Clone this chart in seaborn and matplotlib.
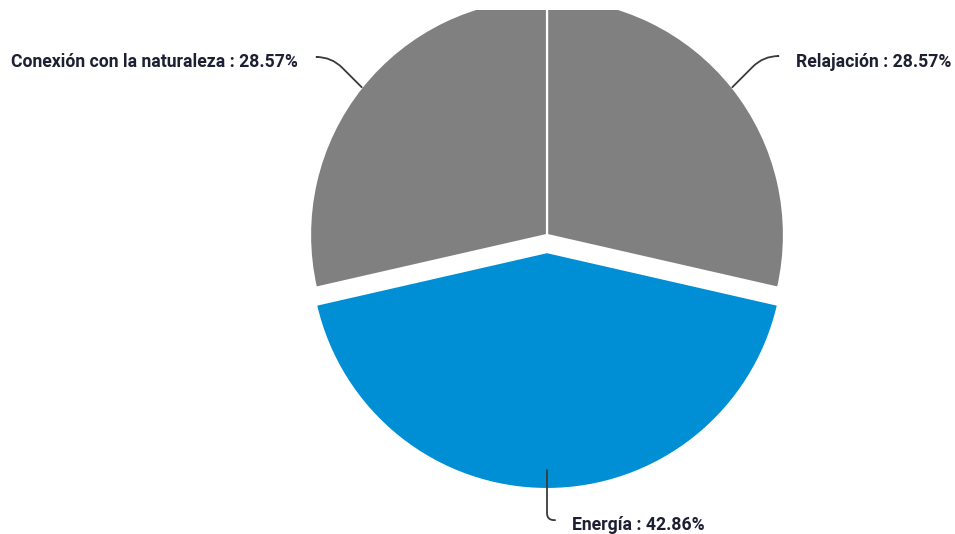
import matplotlib
matplotlib.use("Agg")
import matplotlib.pyplot as plt
import numpy as np
import seaborn as sns

# Survey answers (counts) and their categories, in drawing order (clockwise from 12 o'clock)
categories = ["Relajación", "Energía", "Conexión con la naturaleza"]
counts = [2, 3, 2]
colors = ["#808080", "#008fd5", "#808080"]
explode = [0.0, 0.072, 0.0]

sns.set_theme(style="white")
plt.rcParams["font.family"] = ["Roboto", "DejaVu Sans"]

W, H, DPI = 955, 534, 100
R_PX = 237.0                 # pie radius in pixels
CX, CY = 547.0, 235.0        # pie centre in pixels (from top-left)
TOP_CLIP = 10                # the plot area starts a few pixels below the top edge

fig = plt.figure(figsize=(W / DPI, H / DPI), dpi=DPI)
fig.patch.set_facecolor("white")
ax = fig.add_axes([0, 0, 1, (H - TOP_CLIP) / H])

wedges, _ = ax.pie(
    counts,
    colors=colors,
    explode=explode,
    startangle=90,
    counterclock=False,
    radius=1.0,
    wedgeprops=dict(edgecolor="white", linewidth=1.6),
)
for w in wedges:
    w.set_clip_on(True)
    w.set_clip_path(ax.patch)

ax.set_aspect("auto")
ax.set_xlim(-CX / R_PX, (W - CX) / R_PX)
ax.set_ylim(-(H - CY) / R_PX, (CY - TOP_CLIP) / R_PX)
ax.axis("off")

total = sum(counts)
pcts = [c / total * 100 for c in counts]

# label layout: (text x, text baseline y, ha, line start x, line start y,
#                leader radius, connection style)
layout = [
    (1.051, 0.709, "left", 0.975, 0.755, 1.0, "angle,angleA=0,angleB=45,rad=15"),
    (0.105, -1.245, "left", 0.034, -1.203, 0.92, "angle,angleA=0,angleB=90,rad=7"),
    (-1.051, 0.709, "right", -0.966, 0.751, 1.0, "angle,angleA=0,angleB=135,rad=15"),
]

for w, name, pct, (tx, ty, ha, lx, ly, lr, cs) in zip(wedges, categories, pcts, layout):
    mid = np.deg2rad((w.theta1 + w.theta2) / 2)
    cx, cy = w.center
    px, py = cx + lr * np.cos(mid), cy + lr * np.sin(mid)
    ax.annotate(
        "",
        xy=(px, py),
        xytext=(lx, ly),
        arrowprops=dict(arrowstyle="-", color="#3a3a3a", lw=1.3,
                        connectionstyle=cs, shrinkA=0, shrinkB=0),
        annotation_clip=False,
    )
    ax.text(tx, ty, f"{name} : {pct:.2f}%", ha=ha, va="baseline",
            fontsize=12.7, fontweight="bold", color="#1d1f33",
            clip_on=False)

fig.savefig("out.png", dpi=DPI, facecolor="white")
